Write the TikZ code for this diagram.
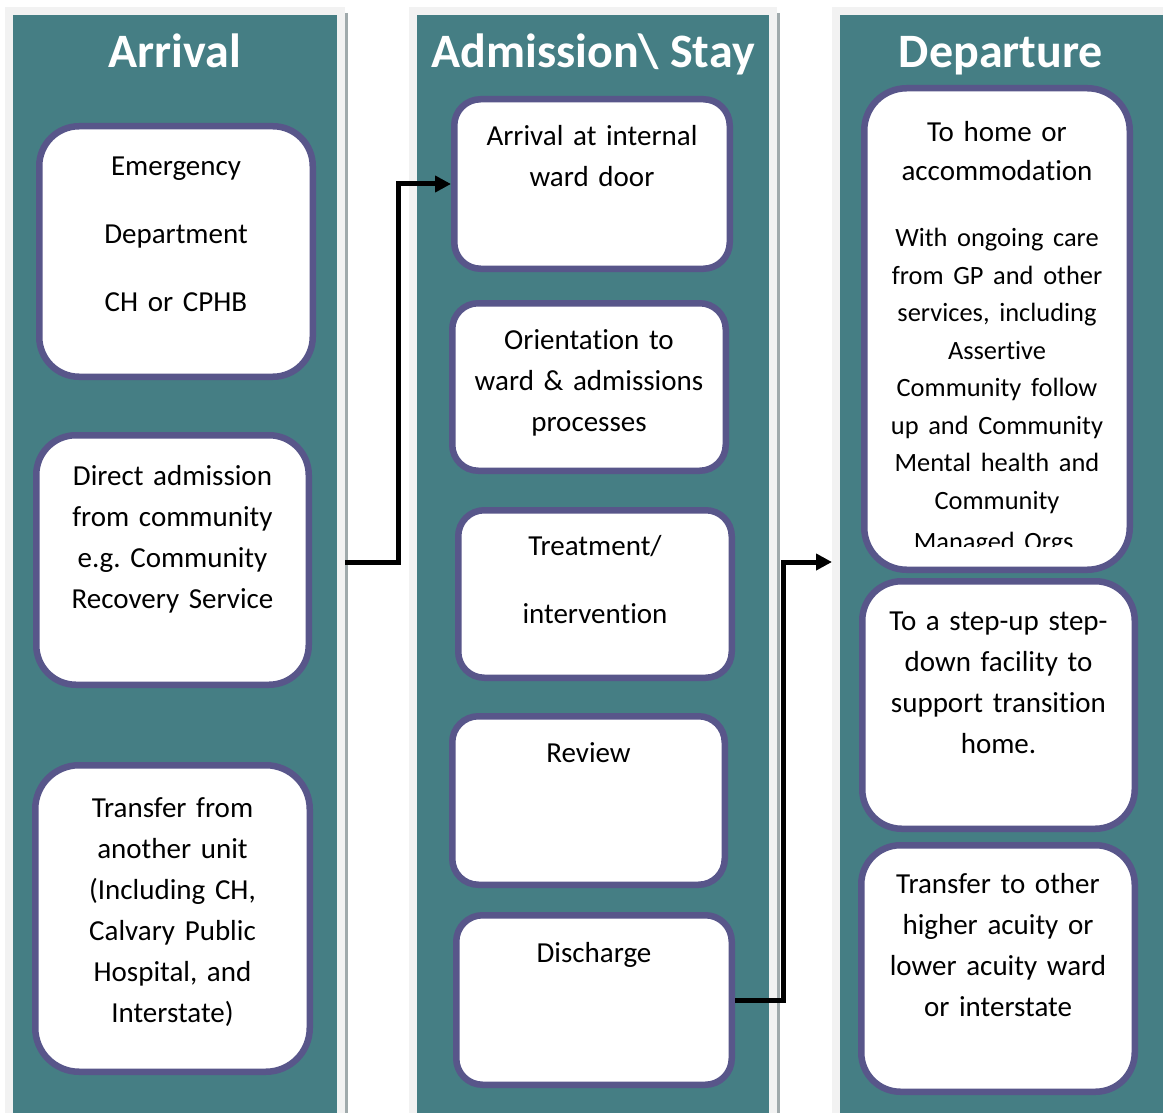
\documentclass[tikz,border=0pt]{standalone}
\usepackage{fontspec}
\setmainfont{Carlito}[Ligatures=CommonOff]
\usepackage{tikz}
\usetikzlibrary{arrows.meta}
\definecolor{laneteal}{RGB}{69,126,132}
\definecolor{lanegrey}{RGB}{242,242,242}
\definecolor{laneshade}{RGB}{160,170,172}
\definecolor{cardline}{RGB}{88,86,138}
\tikzset{
  lane/.style={fill=laneteal, draw=lanegrey, line width=8pt},
  laneshadow/.style={draw=laneshade, line width=2.5pt},
  lanetitle/.style={anchor=base, text=white, inner sep=0pt, font=\fontsize{48}{50}\selectfont\bfseries},
  cardbox/.style={draw=cardline, fill=white, line width=6.5pt, inner sep=0pt},
  cardtext/.style={anchor=base, text width=300pt, align=center, inner sep=0pt, font=\fontsize{29}{41}\selectfont},
  flow/.style={line width=5pt, line join=miter, -{Triangle[length=16pt,width=16pt]}}
}
% box from its outer corners: name, x1, y1, x2, y2
\newcommand{\card}[5]{
  \pgfmathsetmacro{\cardw}{#4-#2}
  \pgfmathsetmacro{\cardh}{#5-#3}
  \pgfmathsetmacro{\cardr}{0.1667*min(\cardw,\cardh)-3}
  \node[cardbox, rounded corners=\cardr pt, minimum width=\cardw pt-6.5pt, minimum height=\cardh pt-6.5pt] (#1) at ({(#2+#4)/2},{(#3+#5)/2}) {};}
% lines of a box, first baseline below its top edge: box, offset, text
\newcommand{\cardtext}[3]{
  \node[cardtext] (#1-txt) at ([yshift=-#2pt]#1.north) {#3};}

\begin{document}
\frenchspacing
\begin{tikzpicture}[x=1pt,y=-1pt]
        \useasboundingbox (0,0) rectangle (1163,1113);

        % lanes
        \draw[lane] (9,11) rectangle (341,1117);
        \draw[lane] (412.5,11) rectangle (773,1117);
        \draw[lane] (836,11) rectangle (1175,1117);
        \draw[laneshadow] (346.5,13) -- (346.5,1113);
        \draw[laneshadow] (778.5,13) -- (778.5,1113);

        % titles
        \node[lanetitle] (arrival) at (175,68) {Arrival};
        \node[lanetitle] (stay) at (593,68) {Admission\textbackslash{} Stay};
        \node[lanetitle] (departure) at (1001,68) {Departure};

        % arrival
        \card{A1}{36}{123}{316}{380}
        \card{A2}{33}{432}{312}{688}
        \card{A3}{32}{762}{313}{1075}
        \cardtext{A1}{53}{Emergency\\[27pt]Department\\[27pt]CH or CPHB}
        \cardtext{A2}{53}{Direct admission\\from community\\e.g. Community\\Recovery Service}
        \cardtext{A3}{55}{Transfer from\\another unit\\(Including CH,\\Calvary Public\\Hospital, and\\Interstate)}

        % admission / stay
        \card{B1}{451}{96}{733}{272}
        \card{B2}{449}{300}{729}{474}
        \card{B3}{455}{507}{735}{681}
        \card{B4}{449}{713}{728}{888}
        \card{B5}{453}{912}{735}{1088}
        \cardtext{B1}{50}{Arrival at internal\\ward door}
        \cardtext{B2}{49}{Orientation to\\ward \& admissions\\processes}
        \cardtext{B3}{48}{Treatment/\\[27pt]intervention}
        \cardtext{B4}{49}{Review}
        \cardtext{B5}{50}{Discharge}

        % departure
        \card{C1}{861}{85}{1133}{573}
        \card{C2}{859}{578}{1138}{832}
        \card{C3}{858}{842}{1138}{1095}
        \begin{scope}
          \clip (861,85) rectangle (1133,546);
          \cardtext{C1}{57}{\fontsize{29}{38.5}\selectfont To home or\\accommodation\\[29pt]\fontsize{26.4}{37.5}\selectfont With ongoing care\\from GP and other\\services, including\\Assertive\\Community follow\\up and Community\\Mental health and\\Community\\Managed Orgs.}
        \end{scope}
        \cardtext{C2}{52}{To a step-up step-\\down facility to\\support transition\\home.}
        \cardtext{C3}{51}{Transfer to other\\higher acuity or\\lower acuity ward\\or interstate}

        % flow between lanes
        \coordinate (admout) at (345,562);
        \coordinate (depin) at (832,562);
        \draw[flow] (admout) -- ++(53,0) |- (B1.west);
        \draw[flow] (B5.east) -- ++(48,0) |- (depin);
\end{tikzpicture}
\end{document}
